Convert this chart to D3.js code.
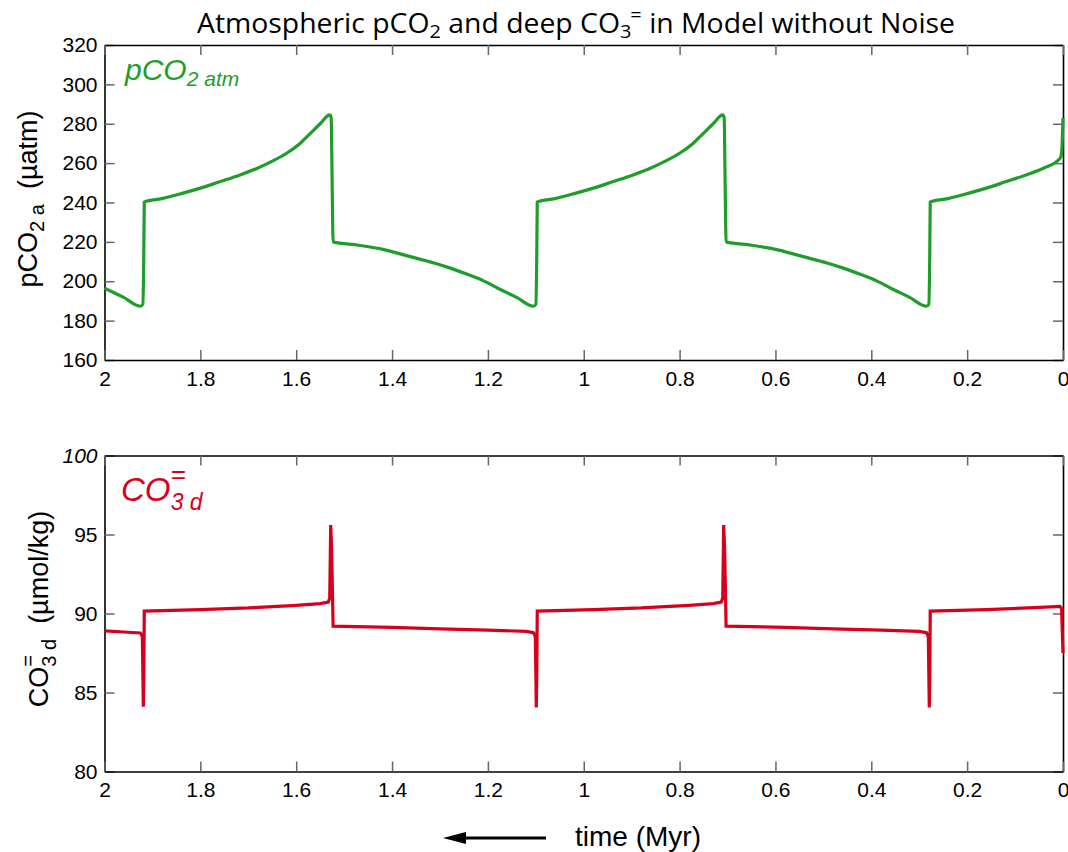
<!DOCTYPE html>
<html><head><meta charset="utf-8">
<script src="https://cdn.jsdelivr.net/npm/d3@7"></script>
<style>body{margin:0;background:#fff}</style>
</head><body>
<svg id="c" width="1068" height="852"></svg>
<script>
// ---------- data ----------
const xTicks = [2, 1.8, 1.6, 1.4, 1.2, 1, 0.8, 0.6, 0.4, 0.2, 0];
const xTickLabels = ["2", "1.8", "1.6", "1.4", "1.2", "1", "0.8", "0.6", "0.4", "0.2", "0"];
const pco2Ticks = [160, 180, 200, 220, 240, 260, 280, 300, 320];
const co3Ticks = [80, 85, 90, 95, 100];

const pco2Time = [
  2.000, 1.960, 1.925, 1.920, 1.918, 1.917,
  1.880, 1.840, 1.800, 1.760, 1.717, 1.680, 1.654, 1.620, 1.592, 1.571, 1.550, 1.530,
  1.527, 1.525, 1.523,
  1.470, 1.419, 1.370, 1.314, 1.280, 1.243, 1.210, 1.174, 1.140, 1.105, 1.100, 1.098, 1.097,
  1.060, 1.020, 0.980, 0.940, 0.897, 0.860, 0.834, 0.800, 0.772, 0.751, 0.730, 0.710,
  0.707, 0.705, 0.703,
  0.650, 0.599, 0.550, 0.494, 0.460, 0.423, 0.390, 0.354, 0.320, 0.285, 0.280, 0.278, 0.277,
  0.240, 0.200, 0.160, 0.120, 0.077, 0.040, 0.006, 0.003, 0.000
];
const pco2Val = [
  196.5, 191.8, 187.3, 188.3, 214, 240.3,
  242, 244.5, 247.3, 250.5, 254, 257.5, 260.5, 265, 270, 275, 280, 284.5,
  283, 250, 220,
  218.3, 216.2, 213, 209.4, 206.8, 203.5, 200.3, 195.8, 191.8, 187.3, 188.3, 214, 240.3,
  242, 244.5, 247.3, 250.5, 254, 257.5, 260.5, 265, 270, 275, 280, 284.5,
  283, 250, 220,
  218.3, 216.2, 213, 209.4, 206.8, 203.5, 200.3, 195.8, 191.8, 187.3, 188.3, 214, 240.3,
  242, 244.5, 247.3, 250.5, 254, 257.5, 262.5, 265, 283
];

const co3Time = [
  2.000, 1.960, 1.925, 1.921, 1.919, 1.918, 1.917,
  1.800, 1.700, 1.600, 1.550, 1.533, 1.530, 1.528, 1.526, 1.523,
  1.400, 1.300, 1.200, 1.120, 1.105, 1.101, 1.099, 1.098, 1.097,
  0.980, 0.880, 0.780, 0.730, 0.713, 0.710, 0.708, 0.706, 0.703,
  0.580, 0.480, 0.380, 0.300, 0.285, 0.281, 0.279, 0.278, 0.277,
  0.160, 0.060, 0.006, 0.003, 0.000
];
const co3Val = [
  88.9, 88.83, 88.77, 88.55, 84.1, 86.0, 90.15,
  90.25, 90.35, 90.52, 90.63, 90.72, 91.0, 95.6, 94.0, 89.2,
  89.12, 89.03, 88.95, 88.87, 88.78, 88.55, 84.05, 86.0, 90.15,
  90.25, 90.35, 90.52, 90.63, 90.72, 91.0, 95.6, 94.0, 89.2,
  89.12, 89.03, 88.95, 88.87, 88.78, 88.55, 84.05, 86.0, 90.15,
  90.25, 90.37, 90.45, 90.3, 87.5
];

// ---------- layout ----------
const svg = d3.select("#c");
const L = 104.5, R = 1063;
const topY0 = 45, topY1 = 360;
const botY0 = 455.5, botY1 = 771.5;
const green = "#1f9d2b", red = "#d7001c";
const font = "'Liberation Sans', Arial, Helvetica, sans-serif";

const x = d3.scaleLinear().domain([2, 0]).range([L, R]);
const yTop = d3.scaleLinear().domain([160, 320]).range([topY1, topY0]);
const yBot = d3.scaleLinear().domain([80, 100]).range([botY1, botY0]);

function panel(y, ticks, y0, y1) {
  const g = svg.append("g");
  const left = g.append("g").attr("transform", `translate(${L},0)`)
    .call(d3.axisLeft(y).tickValues(ticks).tickSize(-10).tickPadding(7).tickSizeOuter(0));
  const right = g.append("g").attr("transform", `translate(${R},0)`)
    .call(d3.axisRight(y).tickValues(ticks).tickSize(-10).tickFormat("").tickSizeOuter(0));
  const bottom = g.append("g").attr("transform", `translate(0,${y1})`)
    .call(d3.axisBottom(x).tickValues(xTicks).tickSize(-10).tickPadding(11).tickSizeOuter(0)
      .tickFormat((d, i) => xTickLabels[i]));
  const top = g.append("g").attr("transform", `translate(0,${y0})`)
    .call(d3.axisTop(x).tickValues(xTicks).tickSize(-10).tickFormat("").tickSizeOuter(0));
  [left, right, bottom, top].forEach(a => {
    a.select(".domain").attr("stroke", "#000").attr("stroke-width", 1.6);
    a.selectAll(".tick line").attr("stroke", "#666").attr("stroke-width", 1.5);
    a.selectAll(".tick text").attr("fill", "#000").style("font-family", font).style("font-size", "21px");
  });
  return {g, left, bottom};
}

const p1 = panel(yTop, pco2Ticks, topY0, topY1);
const p2 = panel(yBot, co3Ticks, botY0, botY1);
p2.left.selectAll(".tick text").filter(d => d === 100).style("font-style", "italic");

// lines
const line1 = d3.line().curve(d3.curveMonotoneX).x((d, i) => x(pco2Time[i])).y((d, i) => yTop(pco2Val[i]));
svg.append("path").datum(pco2Val).attr("d", line1)
  .attr("fill", "none").attr("stroke", green).attr("stroke-width", 3.2).attr("stroke-linejoin", "round");
const line2 = d3.line().x((d, i) => x(co3Time[i])).y((d, i) => yBot(co3Val[i]));
svg.append("path").datum(co3Val).attr("d", line2)
  .attr("fill", "none").attr("stroke", red).attr("stroke-width", 3.2).attr("stroke-linejoin", "miter");

// title
const title = svg.append("text").attr("x", 576).attr("y", 33).attr("text-anchor", "middle")
  .attr("textLength", 758).attr("lengthAdjust", "spacingAndGlyphs")
  .style("font-family", "'Open Sans', 'Noto Sans', sans-serif").style("font-size", "27px").attr("fill", "#000");
title.append("tspan").text("Atmospheric pCO");
title.append("tspan").text("2").style("font-size", "19px").attr("dy", 5);
title.append("tspan").text(" and deep CO").attr("dy", -5);
title.append("tspan").text("3").style("font-size", "19px").attr("dy", 5);
title.append("tspan").text("=").style("font-size", "19px").attr("dx", -1).attr("dy", -17);
title.append("tspan").text(" in Model without Noise").attr("dy", 12);

// y titles
const yt1 = svg.append("text").attr("transform", "translate(37,199) rotate(-90)").attr("text-anchor", "middle")
  .style("font-family", font).style("font-size", "27px").attr("fill", "#000");
yt1.append("tspan").text("pCO");
yt1.append("tspan").text("2 a").style("font-size", "20px").attr("dy", 7);
yt1.append("tspan").text("\u00a0\u00a0(\u00b5atm)").attr("dy", -7);

const yt2 = svg.append("text").attr("transform", "translate(48,609) rotate(-90)").attr("text-anchor", "middle")
  .style("font-family", font).style("font-size", "27px").attr("fill", "#000");
yt2.append("tspan").text("CO");
yt2.append("tspan").text("=").style("font-size", "20px").attr("dy", -13);
yt2.append("tspan").text("3 d").style("font-size", "20px").attr("dx", -11.7).attr("dy", 21);
yt2.append("tspan").text("\u00a0\u00a0(\u00b5mol/kg)").attr("dy", -8);

// legends
const lg1 = svg.append("text").attr("x", 125).attr("y", 80).attr("fill", green)
  .style("font-family", font).style("font-style", "italic").style("font-size", "30px");
lg1.append("tspan").text("pCO");
lg1.append("tspan").text("2 atm").style("font-size", "21px").attr("dy", 6);

const lg2 = svg.append("text").attr("x", 121).attr("y", 501).attr("fill", red)
  .style("font-family", font).style("font-style", "italic").style("font-size", "33px");
lg2.append("tspan").text("CO");
lg2.append("tspan").text("=").style("font-size", "26px").attr("dy", -18);
lg2.append("tspan").text("3 d").style("font-size", "23px").attr("dx", -15).attr("dy", 27);

// x title and arrow
svg.append("text").attr("x", 575).attr("y", 846).attr("fill", "#000")
  .style("font-family", font).style("font-size", "28px").text("time (Myr)");
svg.append("line").attr("x1", 546).attr("x2", 460).attr("y1", 838).attr("y2", 838)
  .attr("stroke", "#000").attr("stroke-width", 3);
svg.append("path").attr("d", "M443,838 L466,832 L466,844 Z").attr("fill", "#000");
</script>
</body></html>
